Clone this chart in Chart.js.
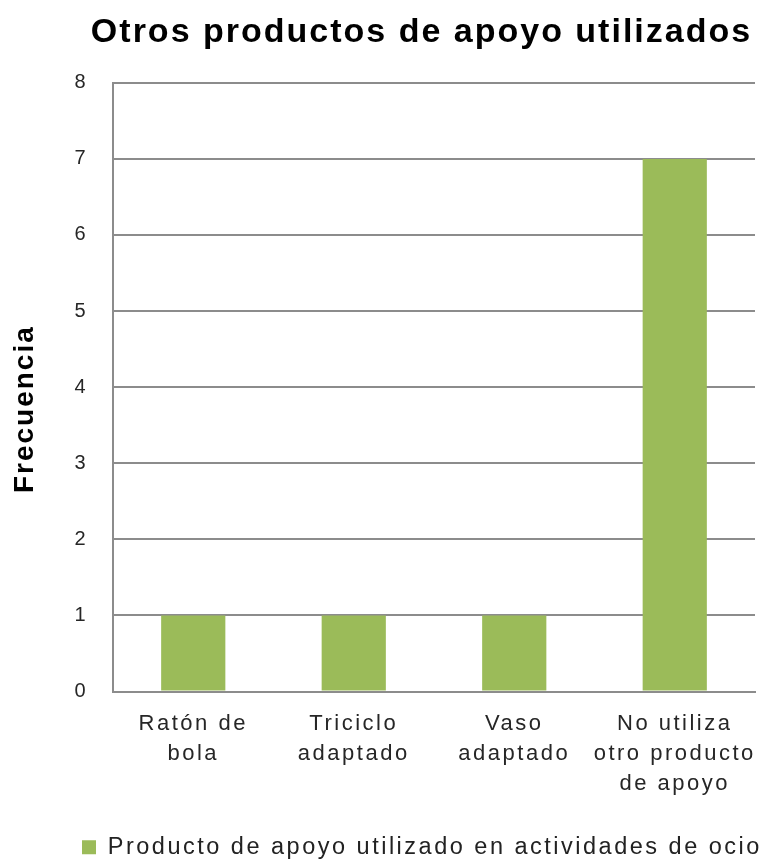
<!DOCTYPE html>
<html>
<head>
<meta charset="utf-8">
<script src="https://cdn.jsdelivr.net/npm/chart.js@4/dist/chart.umd.min.js"></script>
<style>
  html, body { margin: 0; padding: 0; background: #fff; }
  #wrap { width: 771px; height: 864px; }
</style>
</head>
<body>
<div id="wrap"><canvas id="chart" width="771" height="864"></canvas></div>
<script>
// datos del grafico
const categorias = [
    ['Ratón de', 'bola'],
    ['Triciclo', 'adaptado'],
    ['Vaso', 'adaptado'],
    ['No utiliza', 'otro producto', 'de apoyo']
];
const frecuencias = [1, 1, 1, 7];
const nombreSerie = 'Producto de apoyo utilizado en actividades de ocio';
const tituloGrafico = 'Otros productos de apoyo utilizados';
const tituloEjeY = 'Frecuencia';

// el original tiene el texto algo espaciado y el titulo/leyenda descentrados
const ajustes = {
    id: 'ajustes',
    beforeLayout(chart) {
        chart.ctx.letterSpacing = '2.5px';
    },
    afterLayout(chart) {
        const t = chart.titleBlock;
        t.left += 40;
        t.right += 40;

        const lg = chart.legend;
        lg.left = 76;
        lg.right = 771;
        lg.top += 5;

        if (!t._parcheado) {
            const drawT = t.draw;
            t.draw = function () {
                const c = this.ctx;
                c.save();
                c.letterSpacing = '2px';
                drawT.apply(this, arguments);
                c.restore();
            };
            t._parcheado = true;
        }

        const y = chart.scales.y;
        if (!y._parcheado) {
            const drawTitle = y.drawTitle;
            y.drawTitle = function () {
                const c = this.ctx;
                c.save();
                c.translate(0, 22);
                c.letterSpacing = '2px';
                drawTitle.apply(this, arguments);
                c.restore();
            };
            y._parcheado = true;
        }
    }
};

const ctx = document.getElementById('chart').getContext('2d');

new Chart(ctx, {
    type: 'bar',
    data: {
        labels: categorias,
        datasets: [{
            label: nombreSerie,
            data: frecuencias,
            backgroundColor: '#9BBB59',
            borderWidth: 0,
            categoryPercentage: 1,
            barPercentage: 0.4
        }]
    },
    plugins: [ajustes],
    options: {
        responsive: false,
        animation: false,
        layout: { padding: { left: 8, right: 16, top: 12, bottom: 0 } },
        plugins: {
            title: {
                display: true,
                text: tituloGrafico,
                color: '#000',
                font: { family: 'Liberation Sans', size: 34, weight: 'bold' },
                padding: { top: 0, bottom: 30 }
            },
            legend: {
                position: 'bottom',
                align: 'start',
                labels: {
                    color: '#222',
                    font: { family: 'Liberation Sans', size: 23.5 },
                    boxWidth: 14,
                    boxHeight: 14,
                    padding: 6
                }
            },
            tooltip: { enabled: false }
        },
        scales: {
            x: {
                grid: { display: false, drawTicks: false },
                border: { color: '#8c8c8c', width: 2 },
                ticks: {
                    color: '#262626',
                    font: { family: 'Liberation Sans', size: 22, lineHeight: 1.38 },
                    padding: 17,
                    maxRotation: 0,
                    autoSkip: false
                },
                afterFit: function (scale) {
                    scale.height = 133;
                    scale.paddingLeft = 0;
                    scale.paddingRight = 0;
                }
            },
            y: {
                min: 0,
                max: 8,
                ticks: {
                    stepSize: 1,
                    color: '#262626',
                    font: { family: 'Liberation Sans', size: 20 },
                    padding: 25
                },
                grid: { color: '#8c8c8c', lineWidth: 2, drawTicks: false },
                border: { color: '#8c8c8c', width: 2 },
                title: {
                    display: true,
                    text: tituloEjeY,
                    color: '#000',
                    font: { family: 'Liberation Sans', size: 28, weight: 'bold' },
                    padding: { top: 0, bottom: 16 }
                },
                afterFit: function (scale) { scale.width = 105; }
            }
        }
    }
});
</script>
</body>
</html>
